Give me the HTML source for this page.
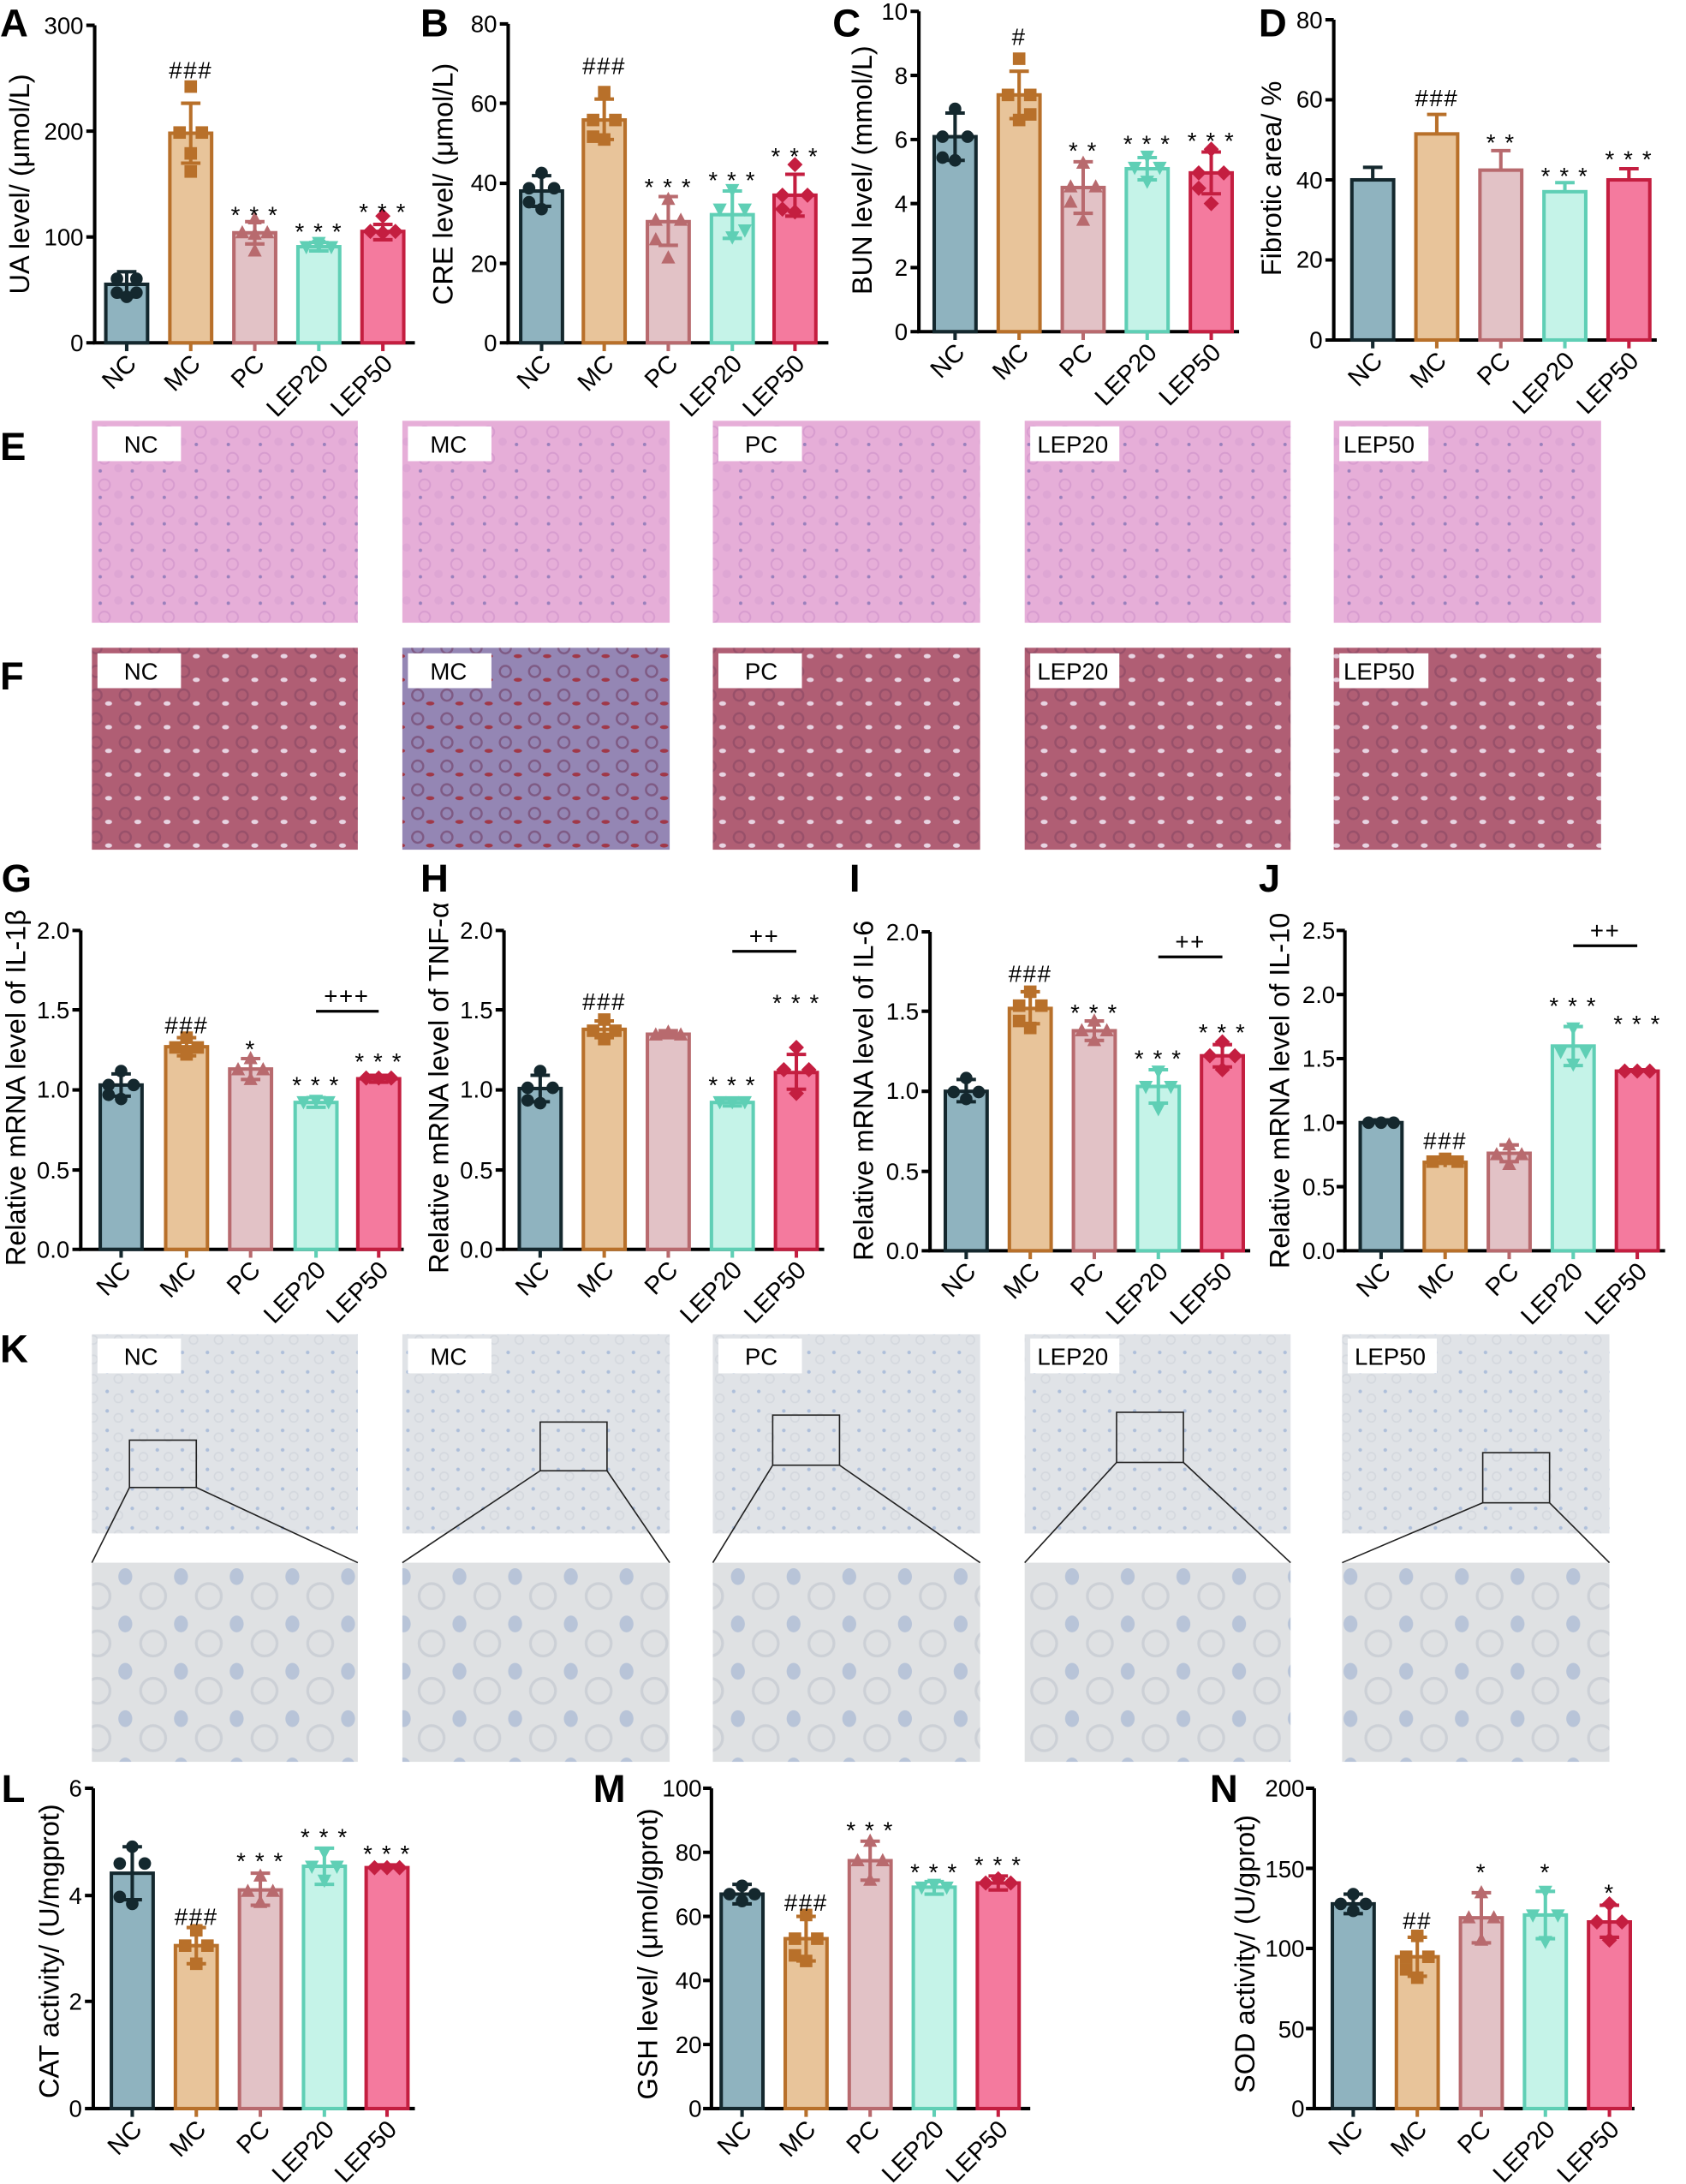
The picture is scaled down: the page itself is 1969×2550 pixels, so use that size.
<!DOCTYPE html>
<html><head><meta charset="utf-8"><style>html,body{margin:0;padding:0;background:#fff}svg{display:block}text{font-family:"Liberation Sans",Arial,sans-serif}</style></head><body>
<svg width="1969" height="2550" viewBox="0 0 1211 1568" xmlns="http://www.w3.org/2000/svg">
<defs>
<path id="c" d="M-4.5 0a4.5 4.5 0 1 0 9 0a4.5 4.5 0 1 0-9 0z"/>
<path id="s" d="M-4.5-4.5h9v9h-9z"/>
<path id="t" d="M0-5.5L5 4h-10z"/>
<path id="d" d="M0 5.5L5-4h-10z"/>
<path id="m" d="M0-5.5L5.5 0L0 5.5L-5.5 0z"/>
<pattern id="pe" width="23" height="19" patternUnits="userSpaceOnUse"><rect width="23" height="19" fill="#e6aed8"/><circle cx="6" cy="6" r="4" fill="none" stroke="#d79ccf" stroke-width="1.2"/><circle cx="16" cy="13" r="3" fill="#dea6d4"/><circle cx="3" cy="15" r="1.2" fill="#9a80bc"/></pattern>
<pattern id="pf" width="21" height="17" patternUnits="userSpaceOnUse"><rect width="21" height="17" fill="#b05e74"/><circle cx="6" cy="6" r="4" fill="none" stroke="#98506a" stroke-width="1.5"/><ellipse cx="15" cy="12" rx="2.5" ry="1.6" fill="#e8d4e2"/></pattern>
<pattern id="pfm" width="21" height="17" patternUnits="userSpaceOnUse"><rect width="21" height="17" fill="#9486b4"/><circle cx="6" cy="6" r="4" fill="none" stroke="#7e5a84" stroke-width="1.5"/><ellipse cx="15" cy="12" rx="3" ry="1.4" fill="#a03848"/></pattern>
<pattern id="pk" width="18" height="14" patternUnits="userSpaceOnUse"><rect width="18" height="14" fill="#e0e3e7"/><circle cx="5" cy="5" r="1.3" fill="#aebfda"/><circle cx="13" cy="10" r="3" fill="none" stroke="#d4d8de"/></pattern>
<pattern id="pz" width="40" height="34" patternUnits="userSpaceOnUse"><rect width="40" height="34" fill="#dfe1e3"/><ellipse cx="10" cy="10" rx="5" ry="6" fill="#b8c4d8"/><circle cx="30" cy="24" r="9" fill="none" stroke="#ccd0d6" stroke-width="2"/></pattern>
</defs>
<rect width="1211" height="1568" fill="#fff"/>

<g font-size="28" font-weight="bold">
<text x="0" y="26">A</text><text x="302" y="26">B</text><text x="598" y="26">C</text><text x="904" y="26">D</text>
<text x="0" y="330">E</text><text x="0" y="495">F</text>
<text x="1" y="640">G</text><text x="302" y="640">H</text><text x="610" y="640">I</text><text x="904" y="640">J</text>
<text x="0" y="978">K</text>
<text x="1" y="1294">L</text><text x="426" y="1294">M</text><text x="869" y="1294">N</text>
</g>

<g><rect x="66" y="302" width="191" height="145" fill="url(#pe)"/><rect x="289" y="302" width="192" height="145" fill="url(#pe)"/><rect x="512" y="302" width="192" height="145" fill="url(#pe)"/><rect x="736" y="302" width="191" height="145" fill="url(#pe)"/><rect x="958" y="302" width="192" height="145" fill="url(#pe)"/>
<rect x="66" y="465" width="191" height="145" fill="url(#pf)"/><rect x="289" y="465" width="192" height="145" fill="url(#pfm)"/><rect x="512" y="465" width="192" height="145" fill="url(#pf)"/><rect x="736" y="465" width="191" height="145" fill="url(#pf)"/><rect x="958" y="465" width="192" height="145" fill="url(#pf)"/>
<rect x="66" y="958" width="191" height="143" fill="url(#pk)"/><rect x="289" y="958" width="192" height="143" fill="url(#pk)"/><rect x="512" y="958" width="192" height="143" fill="url(#pk)"/><rect x="736" y="958" width="191" height="143" fill="url(#pk)"/><rect x="964" y="958" width="192" height="143" fill="url(#pk)"/>
<rect x="66" y="1122" width="191" height="143" fill="url(#pz)"/><rect x="289" y="1122" width="192" height="143" fill="url(#pz)"/><rect x="512" y="1122" width="192" height="143" fill="url(#pz)"/><rect x="736" y="1122" width="191" height="143" fill="url(#pz)"/><rect x="964" y="1122" width="192" height="143" fill="url(#pz)"/>
</g>
<g fill="#fff">
<rect x="70" y="306" width="60" height="25"/><rect x="293" y="306" width="60" height="25"/><rect x="516" y="306" width="60" height="25"/><rect x="740" y="306" width="64" height="25"/><rect x="962" y="306" width="64" height="25"/>
<rect x="70" y="469" width="60" height="25"/><rect x="293" y="469" width="60" height="25"/><rect x="516" y="469" width="60" height="25"/><rect x="740" y="469" width="64" height="25"/><rect x="962" y="469" width="64" height="25"/>
<rect x="70" y="961" width="60" height="25"/><rect x="293" y="961" width="60" height="25"/><rect x="516" y="961" width="60" height="25"/><rect x="740" y="961" width="64" height="25"/><rect x="968" y="961" width="64" height="25"/>
</g>
<g font-size="17">
<text x="89" y="325">NC</text><text x="309" y="325">MC</text><text x="535" y="325">PC</text><text x="745" y="325">LEP20</text><text x="965" y="325">LEP50</text>
<text x="89" y="488">NC</text><text x="309" y="488">MC</text><text x="535" y="488">PC</text><text x="745" y="488">LEP20</text><text x="965" y="488">LEP50</text>
<text x="89" y="980">NC</text><text x="309" y="980">MC</text><text x="535" y="980">PC</text><text x="745" y="980">LEP20</text><text x="973" y="980">LEP50</text>
</g>
<g fill="none" stroke="#222" stroke-width="1">
<rect x="93" y="1034" width="48" height="34"/><path d="M93 1068L66 1122M141 1068L257 1122"/>
<rect x="388" y="1021" width="48" height="35"/><path d="M388 1056L289 1122M436 1056L481 1122"/>
<rect x="555" y="1016" width="48" height="36"/><path d="M555 1052L512 1122M603 1052L704 1122"/>
<rect x="802" y="1014" width="48" height="36"/><path d="M802 1050L736 1122M850 1050L927 1122"/>
<rect x="1065" y="1043" width="48" height="36"/><path d="M1065 1079L964 1122M1113 1079L1156 1122"/>
</g>

<g stroke-width="2.5" stroke-linecap="butt">
<!-- A -->
<g stroke="#000" fill="none"><path d="M68 18V246H298"/><path d="M62 18H68M62 94H68M62 170H68M62 246H68"/></g>
<g font-size="17" text-anchor="end"><text x="60" y="24">300</text><text x="60" y="100">200</text><text x="60" y="176">100</text><text x="60" y="252">0</text></g>
<text transform="translate(21,132) rotate(-90)" font-size="20" text-anchor="middle">UA level/ (μmol/L)</text>
<rect x="76" y="204" width="30" height="42" fill="#8fb3bf" stroke="#14282e"/>
<rect x="122" y="95.5" width="30" height="150.5" fill="#e8c49a" stroke="#b8702a"/>
<rect x="168" y="167" width="30" height="79" fill="#e2c2c6" stroke="#b86a6e"/>
<rect x="214" y="177" width="30" height="69" fill="#c5f3e8" stroke="#5fcfb5"/>
<rect x="260" y="166" width="30" height="80" fill="#f47a9e" stroke="#c41e40"/>
<path d="M91 195V213M84 195H98M84 213H98M91 246V252" stroke="#14282e"/>
<path d="M137 74V117M130 74H144M130 117H144M137 246V252" stroke="#b8702a"/>
<path d="M183 159V175M176 159H190M176 175H190M183 246V252" stroke="#b86a6e"/>
<path d="M229 174V180M222 174H236M222 180H236M229 246V252" stroke="#5fcfb5"/>
<path d="M275 161V172M268 161H282M268 172H282M275 246V252" stroke="#c41e40"/>
<g stroke="none">
<g fill="#14282e"><use href="#c" x="84" y="200"/><use href="#c" x="98" y="200"/><use href="#c" x="84" y="210"/><use href="#c" x="98" y="210"/><use href="#c" x="91" y="213"/></g>
<g fill="#b8702a"><use href="#s" x="137" y="62"/><use href="#s" x="129" y="95"/><use href="#s" x="145" y="95"/><use href="#s" x="137" y="110"/><use href="#s" x="137" y="123"/></g>
<g fill="#b86a6e"><use href="#t" x="183" y="157"/><use href="#t" x="174" y="167"/><use href="#t" x="192" y="167"/><use href="#t" x="183" y="168"/><use href="#t" x="183" y="180"/></g>
<g fill="#5fcfb5"><use href="#d" x="220" y="177"/><use href="#d" x="229" y="176"/><use href="#d" x="238" y="177"/><use href="#d" x="229" y="174"/></g>
<g fill="#c41e40"><use href="#m" x="275" y="155"/><use href="#m" x="266" y="166"/><use href="#m" x="284" y="166"/><use href="#m" x="275" y="167"/></g>
</g>

<!-- B -->
<g stroke="#000" fill="none"><path d="M365 17V246H595"/><path d="M359 17H365M359 74H365M359 131.5H365M359 189H365M359 246H365"/></g>
<g font-size="17" text-anchor="end"><text x="357" y="23">80</text><text x="357" y="80">60</text><text x="357" y="137">40</text><text x="357" y="195">20</text><text x="357" y="252">0</text></g>
<text transform="translate(325,132) rotate(-90)" font-size="20" text-anchor="middle">CRE level/ (μmol/L)</text>
<rect x="374" y="137" width="30" height="109" fill="#8fb3bf" stroke="#14282e"/>
<rect x="419" y="86" width="30" height="160" fill="#e8c49a" stroke="#b8702a"/>
<rect x="465" y="159" width="30" height="87" fill="#e2c2c6" stroke="#b86a6e"/>
<rect x="511" y="154" width="30" height="92" fill="#c5f3e8" stroke="#5fcfb5"/>
<rect x="556" y="140" width="30" height="106" fill="#f47a9e" stroke="#c41e40"/>
<path d="M389 126V148M382 126H396M382 148H396M389 246V252" stroke="#14282e"/>
<path d="M434 71V100M427 71H441M427 100H441M434 246V252" stroke="#b8702a"/>
<path d="M480 141V176M473 141H487M473 176H487M480 246V252" stroke="#b86a6e"/>
<path d="M526 137V171M519 137H533M519 171H533M526 246V252" stroke="#5fcfb5"/>
<path d="M571 125V155M564 125H578M564 155H578M571 246V252" stroke="#c41e40"/>
<g stroke="none">
<g fill="#14282e"><use href="#c" x="389" y="124"/><use href="#c" x="380" y="135"/><use href="#c" x="398" y="135"/><use href="#c" x="389" y="150"/><use href="#c" x="380" y="145"/></g>
<g fill="#b8702a"><use href="#s" x="434" y="66"/><use href="#s" x="426" y="86"/><use href="#s" x="442" y="86"/><use href="#s" x="434" y="100"/><use href="#s" x="426" y="98"/></g>
<g fill="#b86a6e"><use href="#t" x="480" y="143"/><use href="#t" x="471" y="158"/><use href="#t" x="489" y="158"/><use href="#t" x="480" y="185"/><use href="#t" x="471" y="172"/></g>
<g fill="#5fcfb5"><use href="#d" x="526" y="136"/><use href="#d" x="517" y="150"/><use href="#d" x="535" y="150"/><use href="#d" x="526" y="170"/><use href="#d" x="535" y="165"/></g>
<g fill="#c41e40"><use href="#m" x="571" y="118"/><use href="#m" x="562" y="140"/><use href="#m" x="580" y="140"/><use href="#m" x="571" y="152"/><use href="#m" x="562" y="150"/></g>
</g>

<!-- C -->
<g stroke="#000" fill="none"><path d="M660 8V238H890"/><path d="M654 8H660M654 54H660M654 100H660M654 146H660M654 192H660M654 238H660"/></g>
<g font-size="17" text-anchor="end"><text x="652" y="14">10</text><text x="652" y="60">8</text><text x="652" y="106">6</text><text x="652" y="152">4</text><text x="652" y="198">2</text><text x="652" y="244">0</text></g>
<text transform="translate(626,122) rotate(-90)" font-size="20" text-anchor="middle">BUN level/ (mmol/L)</text>
<rect x="671" y="98" width="30" height="140" fill="#8fb3bf" stroke="#14282e"/>
<rect x="717" y="68" width="30" height="170" fill="#e8c49a" stroke="#b8702a"/>
<rect x="763" y="134.5" width="30" height="103.5" fill="#e2c2c6" stroke="#b86a6e"/>
<rect x="809" y="121" width="30" height="117" fill="#c5f3e8" stroke="#5fcfb5"/>
<rect x="855" y="124" width="30" height="114" fill="#f47a9e" stroke="#c41e40"/>
<path d="M686 81V115M679 81H693M679 115H693M686 238V244" stroke="#14282e"/>
<path d="M732 51V85M725 51H739M725 85H739M732 238V244" stroke="#b8702a"/>
<path d="M778 116V153M771 116H785M771 153H785M778 238V244" stroke="#b86a6e"/>
<path d="M824 113V129M817 113H831M817 129H831M824 238V244" stroke="#5fcfb5"/>
<path d="M870 109V139M863 109H877M863 139H877M870 238V244" stroke="#c41e40"/>
<g stroke="none">
<g fill="#14282e"><use href="#c" x="686" y="78"/><use href="#c" x="677" y="98"/><use href="#c" x="695" y="98"/><use href="#c" x="686" y="115"/><use href="#c" x="677" y="113"/></g>
<g fill="#b8702a"><use href="#s" x="732" y="42"/><use href="#s" x="724" y="68"/><use href="#s" x="740" y="68"/><use href="#s" x="732" y="86"/><use href="#s" x="740" y="82"/></g>
<g fill="#b86a6e"><use href="#t" x="778" y="117"/><use href="#t" x="769" y="134"/><use href="#t" x="787" y="134"/><use href="#t" x="778" y="158"/><use href="#t" x="769" y="145"/></g>
<g fill="#5fcfb5"><use href="#d" x="824" y="112"/><use href="#d" x="815" y="120"/><use href="#d" x="833" y="120"/><use href="#d" x="824" y="130"/></g>
<g fill="#c41e40"><use href="#m" x="870" y="107"/><use href="#m" x="861" y="124"/><use href="#m" x="879" y="124"/><use href="#m" x="870" y="146"/><use href="#m" x="861" y="135"/></g>
</g>

<!-- D -->
<g stroke="#000" fill="none"><path d="M958 14V244H1190"/><path d="M952 14H958M952 71.5H958M952 129H958M952 186.5H958M952 244H958"/></g>
<g font-size="17" text-anchor="end"><text x="950" y="20">80</text><text x="950" y="77">60</text><text x="950" y="135">40</text><text x="950" y="192">20</text><text x="950" y="250">0</text></g>
<text transform="translate(920,128) rotate(-90)" font-size="20" text-anchor="middle">Fibrotic area/ %</text>
<rect x="971" y="129" width="30" height="115" fill="#8fb3bf" stroke="#14282e"/>
<rect x="1017" y="96" width="30" height="148" fill="#e8c49a" stroke="#b8702a"/>
<rect x="1063" y="122" width="30" height="122" fill="#e2c2c6" stroke="#b86a6e"/>
<rect x="1109" y="137.5" width="30" height="106.5" fill="#c5f3e8" stroke="#5fcfb5"/>
<rect x="1155" y="129" width="30" height="115" fill="#f47a9e" stroke="#c41e40"/>
<path d="M986 120V129M979 120H993M986 244V250" stroke="#14282e"/>
<path d="M1032 82V96M1025 82H1039M1032 244V250" stroke="#b8702a"/>
<path d="M1078 108V122M1071 108H1085M1078 244V250" stroke="#b86a6e"/>
<path d="M1124 131V138M1117 131H1131M1124 244V250" stroke="#5fcfb5"/>
<path d="M1170 121V129M1163 121H1177M1170 244V250" stroke="#c41e40"/>

<!-- G -->
<g stroke="#000" fill="none"><path d="M58 668V897H290"/><path d="M52 668H58M52 725H58M52 782.5H58M52 840H58M52 897H58"/></g>
<g font-size="17" text-anchor="end"><text x="50" y="674">2.0</text><text x="50" y="731">1.5</text><text x="50" y="788">1.0</text><text x="50" y="846">0.5</text><text x="50" y="903">0.0</text></g>
<text transform="translate(18,781) rotate(-90)" font-size="20" text-anchor="middle">Relative mRNA level of IL-1β</text>
<rect x="72" y="779" width="30" height="118" fill="#8fb3bf" stroke="#14282e"/>
<rect x="119" y="751.5" width="30" height="145.5" fill="#e8c49a" stroke="#b8702a"/>
<rect x="165" y="767.5" width="30" height="129.5" fill="#e2c2c6" stroke="#b86a6e"/>
<rect x="212" y="791.5" width="30" height="105.5" fill="#c5f3e8" stroke="#5fcfb5"/>
<rect x="257" y="774.5" width="30" height="122.5" fill="#f47a9e" stroke="#c41e40"/>
<path d="M87 771V787M80 771H94M80 787H94M87 897V903" stroke="#14282e"/>
<path d="M134 745V758M127 745H141M127 758H141M134 897V903" stroke="#b8702a"/>
<path d="M180 760V775M173 760H187M173 775H187M180 897V903" stroke="#b86a6e"/>
<path d="M227 788V795M220 788H234M220 795H234M227 897V903" stroke="#5fcfb5"/>
<path d="M272 772V777M265 772H279M265 777H279M272 897V903" stroke="#c41e40"/>
<path d="M227 726H272" stroke="#000" stroke-width="2"/>
<g stroke="none">
<g fill="#14282e"><use href="#c" x="87" y="769"/><use href="#c" x="78" y="779"/><use href="#c" x="96" y="779"/><use href="#c" x="87" y="789"/><use href="#c" x="78" y="786"/></g>
<g fill="#b8702a"><use href="#s" x="134" y="745"/><use href="#s" x="126" y="752"/><use href="#s" x="142" y="752"/><use href="#s" x="134" y="757"/></g>
<g fill="#b86a6e"><use href="#t" x="180" y="760"/><use href="#t" x="171" y="768"/><use href="#t" x="189" y="768"/><use href="#t" x="180" y="775"/></g>
<g fill="#5fcfb5"><use href="#d" x="218" y="791"/><use href="#d" x="227" y="790"/><use href="#d" x="236" y="791"/></g>
<g fill="#c41e40"><use href="#m" x="263" y="774"/><use href="#m" x="272" y="774"/><use href="#m" x="281" y="774"/></g>
</g>

<!-- H -->
<g stroke="#000" fill="none"><path d="M362 668V897H592"/><path d="M356 668H362M356 725H362M356 782.5H362M356 840H362M356 897H362"/></g>
<g font-size="17" text-anchor="end"><text x="354" y="674">2.0</text><text x="354" y="731">1.5</text><text x="354" y="788">1.0</text><text x="354" y="846">0.5</text><text x="354" y="903">0.0</text></g>
<text transform="translate(322,781) rotate(-90)" font-size="20" text-anchor="middle">Relative mRNA level of TNF-α</text>
<rect x="373" y="781.5" width="30" height="115.5" fill="#8fb3bf" stroke="#14282e"/>
<rect x="419" y="739" width="30" height="158" fill="#e8c49a" stroke="#b8702a"/>
<rect x="465" y="742.5" width="30" height="154.5" fill="#e2c2c6" stroke="#b86a6e"/>
<rect x="511" y="791.5" width="30" height="105.5" fill="#c5f3e8" stroke="#5fcfb5"/>
<rect x="557" y="770" width="30" height="127" fill="#f47a9e" stroke="#c41e40"/>
<path d="M388 772V791M381 772H395M381 791H395M388 897V903" stroke="#14282e"/>
<path d="M434 733V745M427 733H441M427 745H441M434 897V903" stroke="#b8702a"/>
<path d="M480 740V745M473 740H487M473 745H487M480 897V903" stroke="#b86a6e"/>
<path d="M526 789V794M519 789H533M519 794H533M526 897V903" stroke="#5fcfb5"/>
<path d="M572 757V782M565 757H579M565 782H579M572 897V903" stroke="#c41e40"/>
<path d="M526 683H572" stroke="#000" stroke-width="2"/>
<g stroke="none">
<g fill="#14282e"><use href="#c" x="388" y="769"/><use href="#c" x="379" y="781"/><use href="#c" x="397" y="781"/><use href="#c" x="388" y="792"/><use href="#c" x="379" y="790"/></g>
<g fill="#b8702a"><use href="#s" x="434" y="732"/><use href="#s" x="426" y="740"/><use href="#s" x="442" y="740"/><use href="#s" x="434" y="746"/></g>
<g fill="#b86a6e"><use href="#t" x="480" y="741"/><use href="#t" x="471" y="743"/><use href="#t" x="489" y="743"/></g>
<g fill="#5fcfb5"><use href="#d" x="517" y="791"/><use href="#d" x="526" y="791"/><use href="#d" x="535" y="791"/></g>
<g fill="#c41e40"><use href="#m" x="572" y="752"/><use href="#m" x="563" y="768"/><use href="#m" x="581" y="768"/><use href="#m" x="572" y="785"/></g>
</g>

<!-- I -->
<g stroke="#000" fill="none"><path d="M668 669V898H898"/><path d="M662 669H668M662 726H668M662 783.5H668M662 841H668M662 898H668"/></g>
<g font-size="17" text-anchor="end"><text x="660" y="675">2.0</text><text x="660" y="732">1.5</text><text x="660" y="789">1.0</text><text x="660" y="847">0.5</text><text x="660" y="904">0.0</text></g>
<text transform="translate(627,783) rotate(-90)" font-size="20" text-anchor="middle">Relative mRNA level of IL-6</text>
<rect x="679" y="783.5" width="30" height="114.5" fill="#8fb3bf" stroke="#14282e"/>
<rect x="725" y="724" width="30" height="174" fill="#e8c49a" stroke="#b8702a"/>
<rect x="771" y="740" width="30" height="158" fill="#e2c2c6" stroke="#b86a6e"/>
<rect x="817" y="780" width="30" height="118" fill="#c5f3e8" stroke="#5fcfb5"/>
<rect x="863" y="758" width="30" height="140" fill="#f47a9e" stroke="#c41e40"/>
<path d="M694 775V791M687 775H701M687 791H701M694 898V904" stroke="#14282e"/>
<path d="M740 712V735M733 712H747M733 735H747M740 898V904" stroke="#b8702a"/>
<path d="M786 733V747M779 733H793M779 747H793M786 898V904" stroke="#b86a6e"/>
<path d="M832 768V792M825 768H839M825 792H839M832 898V904" stroke="#5fcfb5"/>
<path d="M878 750V766M871 750H885M871 766H885M878 898V904" stroke="#c41e40"/>
<path d="M832 687H878" stroke="#000" stroke-width="2"/>
<g stroke="none">
<g fill="#14282e"><use href="#c" x="694" y="774"/><use href="#c" x="685" y="784"/><use href="#c" x="703" y="784"/><use href="#c" x="694" y="789"/></g>
<g fill="#b8702a"><use href="#s" x="740" y="712"/><use href="#s" x="732" y="722"/><use href="#s" x="748" y="722"/><use href="#s" x="740" y="738"/><use href="#s" x="732" y="733"/></g>
<g fill="#b86a6e"><use href="#t" x="786" y="733"/><use href="#t" x="777" y="740"/><use href="#t" x="795" y="740"/><use href="#t" x="786" y="747"/></g>
<g fill="#5fcfb5"><use href="#d" x="832" y="769"/><use href="#d" x="823" y="780"/><use href="#d" x="841" y="780"/><use href="#d" x="832" y="796"/></g>
<g fill="#c41e40"><use href="#m" x="878" y="748"/><use href="#m" x="869" y="758"/><use href="#m" x="887" y="758"/><use href="#m" x="878" y="768"/></g>
</g>

<!-- J -->
<g stroke="#000" fill="none"><path d="M966 668V898H1196"/><path d="M960 668H966M960 714H966M960 760H966M960 806H966M960 852H966M960 898H966"/></g>
<g font-size="17" text-anchor="end"><text x="959" y="674">2.5</text><text x="959" y="720">2.0</text><text x="959" y="766">1.5</text><text x="959" y="812">1.0</text><text x="959" y="858">0.5</text><text x="959" y="904">0.0</text></g>
<text transform="translate(926,783) rotate(-90)" font-size="20" text-anchor="middle">Relative mRNA level of IL-10</text>
<rect x="977" y="806" width="30" height="92" fill="#8fb3bf" stroke="#14282e"/>
<rect x="1023" y="834.5" width="30" height="63.5" fill="#e8c49a" stroke="#b8702a"/>
<rect x="1069" y="828" width="30" height="70" fill="#e2c2c6" stroke="#b86a6e"/>
<rect x="1115" y="751" width="30" height="147" fill="#c5f3e8" stroke="#5fcfb5"/>
<rect x="1161" y="769" width="30" height="129" fill="#f47a9e" stroke="#c41e40"/>
<path d="M992 804V808M985 804H999M992 898V904" stroke="#14282e"/>
<path d="M1038 831V838M1031 831H1045M1038 898V904" stroke="#b8702a"/>
<path d="M1084 822V834M1077 822H1091M1077 834H1091M1084 898V904" stroke="#b86a6e"/>
<path d="M1130 737V765M1123 737H1137M1123 765H1137M1130 898V904" stroke="#5fcfb5"/>
<path d="M1176 768V770M1169 768H1183M1176 898V904" stroke="#c41e40"/>
<path d="M1130 679H1176" stroke="#000" stroke-width="2"/>
<g stroke="none">
<g fill="#14282e"><use href="#c" x="983" y="806"/><use href="#c" x="992" y="806"/><use href="#c" x="1001" y="806"/></g>
<g fill="#b8702a"><use href="#s" x="1029" y="834"/><use href="#s" x="1038" y="832"/><use href="#s" x="1047" y="834"/></g>
<g fill="#b86a6e"><use href="#t" x="1084" y="822"/><use href="#t" x="1075" y="829"/><use href="#t" x="1093" y="829"/><use href="#t" x="1084" y="836"/></g>
<g fill="#5fcfb5"><use href="#d" x="1130" y="738"/><use href="#d" x="1121" y="755"/><use href="#d" x="1139" y="755"/><use href="#d" x="1130" y="764"/></g>
<g fill="#c41e40"><use href="#m" x="1167" y="769"/><use href="#m" x="1176" y="769"/><use href="#m" x="1185" y="769"/></g>
</g>

<!-- L -->
<g stroke="#000" fill="none"><path d="M67 1284V1514H298"/><path d="M61 1284H67M61 1361H67M61 1437H67M61 1514H67"/></g>
<g font-size="17" text-anchor="end"><text x="59" y="1290">6</text><text x="59" y="1367">4</text><text x="59" y="1443">2</text><text x="59" y="1520">0</text></g>
<text transform="translate(42,1401) rotate(-90)" font-size="20" text-anchor="middle">CAT activity/ (U/mgprot)</text>
<rect x="80" y="1345" width="30" height="169" fill="#8fb3bf" stroke="#14282e"/>
<rect x="126" y="1397" width="30" height="117" fill="#e8c49a" stroke="#b8702a"/>
<rect x="172" y="1357" width="30" height="157" fill="#e2c2c6" stroke="#b86a6e"/>
<rect x="218" y="1340" width="30" height="174" fill="#c5f3e8" stroke="#5fcfb5"/>
<rect x="263" y="1341" width="30" height="173" fill="#f47a9e" stroke="#c41e40"/>
<path d="M95 1326V1364M88 1326H102M88 1364H102M95 1514V1520" stroke="#14282e"/>
<path d="M141 1384V1410M134 1384H148M134 1410H148M141 1514V1520" stroke="#b8702a"/>
<path d="M187 1345V1368M180 1345H194M180 1368H194M187 1514V1520" stroke="#b86a6e"/>
<path d="M233 1327V1353M226 1327H240M226 1353H240M233 1514V1520" stroke="#5fcfb5"/>
<path d="M278 1339V1343M271 1339H285M278 1514V1520" stroke="#c41e40"/>
<g stroke="none">
<g fill="#14282e"><use href="#c" x="95" y="1326"/><use href="#c" x="86" y="1338"/><use href="#c" x="104" y="1338"/><use href="#c" x="95" y="1367"/><use href="#c" x="86" y="1362"/></g>
<g fill="#b8702a"><use href="#s" x="141" y="1386"/><use href="#s" x="133" y="1397"/><use href="#s" x="149" y="1397"/><use href="#s" x="141" y="1410"/></g>
<g fill="#b86a6e"><use href="#t" x="187" y="1347"/><use href="#t" x="178" y="1358"/><use href="#t" x="196" y="1358"/><use href="#t" x="187" y="1366"/></g>
<g fill="#5fcfb5"><use href="#d" x="233" y="1330"/><use href="#d" x="224" y="1340"/><use href="#d" x="242" y="1340"/><use href="#d" x="233" y="1350"/></g>
<g fill="#c41e40"><use href="#m" x="269" y="1341"/><use href="#m" x="278" y="1341"/><use href="#m" x="287" y="1341"/></g>
</g>

<!-- M -->
<g stroke="#000" fill="none"><path d="M511 1284V1514H740"/><path d="M505 1284H511M505 1330H511M505 1376H511M505 1422H511M505 1468H511M505 1514H511"/></g>
<g font-size="17" text-anchor="end"><text x="504" y="1290">100</text><text x="504" y="1336">80</text><text x="504" y="1382">60</text><text x="504" y="1428">40</text><text x="504" y="1474">20</text><text x="504" y="1520">0</text></g>
<text transform="translate(472,1403) rotate(-90)" font-size="20" text-anchor="middle">GSH level/ (μmol/gprot)</text>
<rect x="518" y="1360" width="30" height="154" fill="#8fb3bf" stroke="#14282e"/>
<rect x="564" y="1392" width="30" height="122" fill="#e8c49a" stroke="#b8702a"/>
<rect x="610" y="1336" width="30" height="178" fill="#e2c2c6" stroke="#b86a6e"/>
<rect x="656" y="1355" width="30" height="159" fill="#c5f3e8" stroke="#5fcfb5"/>
<rect x="702" y="1352" width="30" height="162" fill="#f47a9e" stroke="#c41e40"/>
<path d="M533 1353V1367M526 1353H540M526 1367H540M533 1514V1520" stroke="#14282e"/>
<path d="M579 1376V1408M572 1376H586M572 1408H586M579 1514V1520" stroke="#b8702a"/>
<path d="M625 1322V1350M618 1322H632M618 1350H632M625 1514V1520" stroke="#b86a6e"/>
<path d="M671 1351V1360M664 1351H678M664 1360H678M671 1514V1520" stroke="#5fcfb5"/>
<path d="M717 1347V1357M710 1347H724M710 1357H724M717 1514V1520" stroke="#c41e40"/>
<g stroke="none">
<g fill="#14282e"><use href="#c" x="533" y="1354"/><use href="#c" x="524" y="1360"/><use href="#c" x="542" y="1360"/><use href="#c" x="533" y="1365"/></g>
<g fill="#b8702a"><use href="#s" x="579" y="1375"/><use href="#s" x="571" y="1392"/><use href="#s" x="587" y="1392"/><use href="#s" x="579" y="1408"/><use href="#s" x="571" y="1404"/></g>
<g fill="#b86a6e"><use href="#t" x="625" y="1322"/><use href="#t" x="616" y="1336"/><use href="#t" x="634" y="1336"/><use href="#t" x="625" y="1350"/></g>
<g fill="#5fcfb5"><use href="#d" x="662" y="1355"/><use href="#d" x="671" y="1353"/><use href="#d" x="680" y="1355"/></g>
<g fill="#c41e40"><use href="#m" x="708" y="1352"/><use href="#m" x="717" y="1349"/><use href="#m" x="726" y="1352"/></g>
</g>

<!-- N -->
<g stroke="#000" fill="none"><path d="M944 1284V1514H1174"/><path d="M938 1284H944M938 1341.5H944M938 1399H944M938 1456.5H944M938 1514H944"/></g>
<g font-size="17" text-anchor="end"><text x="937" y="1290">200</text><text x="937" y="1348">150</text><text x="937" y="1405">100</text><text x="937" y="1463">50</text><text x="937" y="1520">0</text></g>
<text transform="translate(901,1403) rotate(-90)" font-size="20" text-anchor="middle">SOD activity/ (U/gprot)</text>
<rect x="957" y="1367" width="30" height="147" fill="#8fb3bf" stroke="#14282e"/>
<rect x="1003" y="1405" width="30" height="109" fill="#e8c49a" stroke="#b8702a"/>
<rect x="1049" y="1377" width="30" height="137" fill="#e2c2c6" stroke="#b86a6e"/>
<rect x="1095" y="1375" width="30" height="139" fill="#c5f3e8" stroke="#5fcfb5"/>
<rect x="1141" y="1380" width="30" height="134" fill="#f47a9e" stroke="#c41e40"/>
<path d="M972 1360V1374M965 1360H979M965 1374H979M972 1514V1520" stroke="#14282e"/>
<path d="M1018 1391V1419M1011 1391H1025M1011 1419H1025M1018 1514V1520" stroke="#b8702a"/>
<path d="M1064 1359V1395M1057 1359H1071M1057 1395H1071M1064 1514V1520" stroke="#b86a6e"/>
<path d="M1110 1358V1392M1103 1358H1117M1103 1392H1117M1110 1514V1520" stroke="#5fcfb5"/>
<path d="M1156 1368V1391M1149 1368H1163M1149 1391H1163M1156 1514V1520" stroke="#c41e40"/>
<g stroke="none">
<g fill="#14282e"><use href="#c" x="972" y="1360"/><use href="#c" x="963" y="1367"/><use href="#c" x="981" y="1367"/><use href="#c" x="972" y="1372"/></g>
<g fill="#b8702a"><use href="#s" x="1018" y="1390"/><use href="#s" x="1010" y="1405"/><use href="#s" x="1026" y="1405"/><use href="#s" x="1018" y="1420"/><use href="#s" x="1010" y="1414"/></g>
<g fill="#b86a6e"><use href="#t" x="1064" y="1359"/><use href="#t" x="1055" y="1377"/><use href="#t" x="1073" y="1377"/><use href="#t" x="1064" y="1393"/></g>
<g fill="#5fcfb5"><use href="#d" x="1110" y="1358"/><use href="#d" x="1101" y="1375"/><use href="#d" x="1119" y="1375"/><use href="#d" x="1110" y="1394"/></g>
<g fill="#c41e40"><use href="#m" x="1156" y="1367"/><use href="#m" x="1147" y="1380"/><use href="#m" x="1165" y="1380"/><use href="#m" x="1156" y="1393"/></g>
</g>
</g>

<g font-size="17" text-anchor="middle" letter-spacing="1">
<text x="137" y="56">###</text><text x="183" y="160">* * *</text><text x="229" y="172">* * *</text><text x="275" y="158">* * *</text>
<text x="434" y="53">###</text><text x="480" y="140">* * *</text><text x="526" y="135">* * *</text><text x="571" y="118">* * *</text>
<text x="732" y="32">#</text><text x="778" y="114">* *</text><text x="824" y="109">* * *</text><text x="870" y="107">* * *</text>
<text x="1032" y="76">###</text><text x="1078" y="108">* *</text><text x="1124" y="132">* * *</text><text x="1170" y="120">* * *</text>
<text x="134" y="742">###</text><text x="180" y="759">*</text><text x="227" y="785">* * *</text><text x="272" y="768">* * *</text><text x="249" y="721">+++</text>
<text x="434" y="725">###</text><text x="526" y="785">* * *</text><text x="572" y="726">* * *</text><text x="549" y="678">++</text>
<text x="740" y="705">###</text><text x="786" y="733">* * *</text><text x="832" y="766">* * *</text><text x="878" y="747">* * *</text><text x="855" y="682">++</text>
<text x="1038" y="825">###</text><text x="1130" y="728">* * *</text><text x="1176" y="741">* * *</text><text x="1153" y="674">++</text>
<text x="141" y="1382">###</text><text x="187" y="1342">* * *</text><text x="233" y="1325">* * *</text><text x="278" y="1337">* * *</text>
<text x="579" y="1372">###</text><text x="625" y="1320">* * *</text><text x="671" y="1350">* * *</text><text x="717" y="1345">* * *</text>
<text x="1018" y="1385">##</text><text x="1064" y="1350">*</text><text x="1110" y="1350">*</text><text x="1156" y="1365">*</text>
</g>

<g font-size="18" text-anchor="end">
<text transform="translate(99,262) rotate(-45)">NC</text><text transform="translate(145,262) rotate(-45)">MC</text><text transform="translate(191,262) rotate(-45)">PC</text><text transform="translate(237,262) rotate(-45)">LEP20</text><text transform="translate(283,262) rotate(-45)">LEP50</text>
<text transform="translate(397,262) rotate(-45)">NC</text><text transform="translate(442,262) rotate(-45)">MC</text><text transform="translate(488,262) rotate(-45)">PC</text><text transform="translate(534,262) rotate(-45)">LEP20</text><text transform="translate(579,262) rotate(-45)">LEP50</text>
<text transform="translate(694,254) rotate(-45)">NC</text><text transform="translate(740,254) rotate(-45)">MC</text><text transform="translate(786,254) rotate(-45)">PC</text><text transform="translate(832,254) rotate(-45)">LEP20</text><text transform="translate(878,254) rotate(-45)">LEP50</text>
<text transform="translate(994,260) rotate(-45)">NC</text><text transform="translate(1040,260) rotate(-45)">MC</text><text transform="translate(1086,260) rotate(-45)">PC</text><text transform="translate(1132,260) rotate(-45)">LEP20</text><text transform="translate(1178,260) rotate(-45)">LEP50</text>
<text transform="translate(95,913) rotate(-45)">NC</text><text transform="translate(142,913) rotate(-45)">MC</text><text transform="translate(188,913) rotate(-45)">PC</text><text transform="translate(235,913) rotate(-45)">LEP20</text><text transform="translate(280,913) rotate(-45)">LEP50</text>
<text transform="translate(396,913) rotate(-45)">NC</text><text transform="translate(442,913) rotate(-45)">MC</text><text transform="translate(488,913) rotate(-45)">PC</text><text transform="translate(534,913) rotate(-45)">LEP20</text><text transform="translate(580,913) rotate(-45)">LEP50</text>
<text transform="translate(702,914) rotate(-45)">NC</text><text transform="translate(748,914) rotate(-45)">MC</text><text transform="translate(794,914) rotate(-45)">PC</text><text transform="translate(840,914) rotate(-45)">LEP20</text><text transform="translate(886,914) rotate(-45)">LEP50</text>
<text transform="translate(1000,914) rotate(-45)">NC</text><text transform="translate(1046,914) rotate(-45)">MC</text><text transform="translate(1092,914) rotate(-45)">PC</text><text transform="translate(1138,914) rotate(-45)">LEP20</text><text transform="translate(1184,914) rotate(-45)">LEP50</text>
<text transform="translate(103,1530) rotate(-45)">NC</text><text transform="translate(149,1530) rotate(-45)">MC</text><text transform="translate(195,1530) rotate(-45)">PC</text><text transform="translate(241,1530) rotate(-45)">LEP20</text><text transform="translate(286,1530) rotate(-45)">LEP50</text>
<text transform="translate(541,1530) rotate(-45)">NC</text><text transform="translate(587,1530) rotate(-45)">MC</text><text transform="translate(633,1530) rotate(-45)">PC</text><text transform="translate(679,1530) rotate(-45)">LEP20</text><text transform="translate(725,1530) rotate(-45)">LEP50</text>
<text transform="translate(980,1530) rotate(-45)">NC</text><text transform="translate(1026,1530) rotate(-45)">MC</text><text transform="translate(1072,1530) rotate(-45)">PC</text><text transform="translate(1118,1530) rotate(-45)">LEP20</text><text transform="translate(1164,1530) rotate(-45)">LEP50</text>
</g>
</svg>
</body></html>
